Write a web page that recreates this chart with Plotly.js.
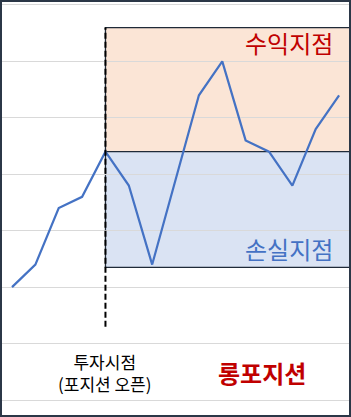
<!DOCTYPE html>
<html>
<head>
<meta charset="utf-8">
<script src="https://cdn.plot.ly/plotly-3.0.1.min.js"></script>
<style>html,body{margin:0;padding:0;background:#fff;}#chart{width:351px;height:417px;}</style>
</head>
<body>
<div id="chart"></div>
<script>
// Data
const periods = [0, 1, 2, 3, 4, 5, 6, 7, 8, 9, 10, 11, 12, 13, 14];
const price = [20, 24, 34, 36, 44, 38, 24, 39, 54, 60, 46, 44, 38, 48, 54];
const entryIndex = 4;
const entryPrice = 44;
const takeProfit = 66;
const stopLoss = 23.5;
const lastIndex = 14.6;
const dashBottom = 13;
const labels = {
  profit: '수익지점',
  loss: '손실지점',
  entry: '투자시점<br>(포지션 오픈)',
  position: '롱포지션'
};

const font = '"Noto Sans CJK KR", "Noto Sans", sans-serif';
const red = '#c00000';
const blue = '#4472c4';

const trace = {
  x: periods, y: price, type: 'scatter', mode: 'lines',
  line: {color: blue, width: 2.2}, hoverinfo: 'skip'
};

const layout = {
  width: 351, height: 417,
  margin: {l: 0, r: 0, t: 0, b: 0},
  paper_bgcolor: '#fff', plot_bgcolor: 'rgba(0,0,0,0)',
  showlegend: false,
  xaxis: {range: [-0.514, 14.51], showgrid: false, zeroline: false, showticklabels: false, showline: false, fixedrange: true},
  yaxis: {range: [-3.01, 70.88], dtick: 10, tick0: 0, showgrid: true, gridcolor: '#d9d9d9', gridwidth: 1,
          zeroline: false, showticklabels: false, showline: false, fixedrange: true},
  shapes: [
    {type: 'rect', layer: 'below', xref: 'x', yref: 'y', x0: entryIndex, x1: lastIndex, y0: entryPrice, y1: takeProfit,
     fillcolor: '#fbe5d6', line: {color: '#1f2a38', width: 1.3}},
    {type: 'rect', layer: 'below', xref: 'x', yref: 'y', x0: entryIndex, x1: lastIndex, y0: stopLoss, y1: entryPrice,
     fillcolor: '#dae3f3', line: {color: '#1f2a38', width: 1.3}},
    {type: 'line', layer: 'above', xref: 'x', yref: 'y', x0: entryIndex, x1: entryIndex, y0: dashBottom, y1: takeProfit,
     line: {color: '#000', width: 2, dash: '6px,3px'}},
    {type: 'rect', layer: 'above', xref: 'paper', yref: 'paper', x0: 0, x1: 1, y0: 0, y1: 1,
     line: {color: '#2b3747', width: 4}}
  ],
  annotations: [
    {x: 13.83, y: 63.3, xref: 'x', yref: 'y', text: labels.profit, showarrow: false, xanchor: 'right', yanchor: 'middle',
     font: {family: font, size: 24, color: red}},
    {x: 13.83, y: 26.9, xref: 'x', yref: 'y', text: labels.loss, showarrow: false, xanchor: 'right', yanchor: 'middle',
     font: {family: font, size: 24, color: blue}},
    {x: entryIndex, y: 4.87, xref: 'x', yref: 'y', text: labels.entry, showarrow: false, xanchor: 'center', yanchor: 'middle',
     font: {family: font, size: 17, color: '#000'}},
    {x: 10.7, y: 4.8, xref: 'x', yref: 'y', text: labels.position, showarrow: false, xanchor: 'center', yanchor: 'middle',
     font: {family: font, size: 24, color: red, weight: 700}}
  ]
};

Plotly.newPlot('chart', [trace], layout, {displayModeBar: false, staticPlot: true});
</script>
</body>
</html>
